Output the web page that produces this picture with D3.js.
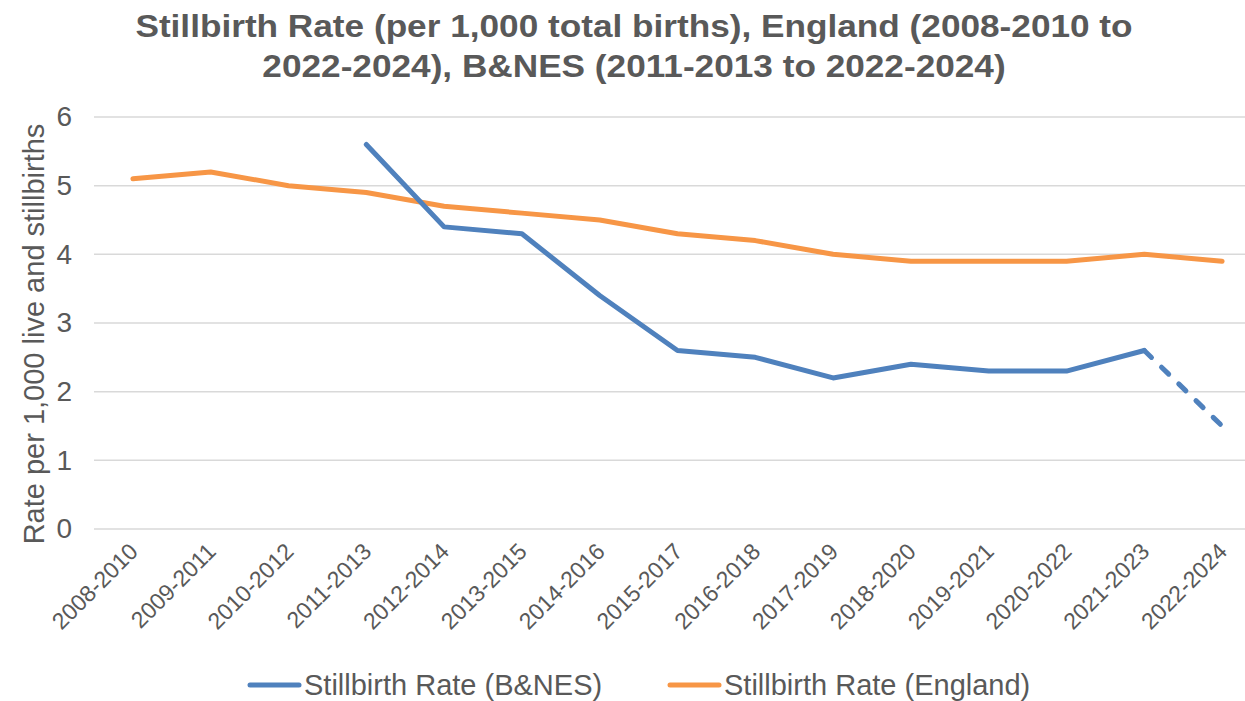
<!DOCTYPE html>
<html>
<head>
<meta charset="utf-8">
<script src="https://cdn.jsdelivr.net/npm/d3@7"></script>
<style>
  body { margin: 0; background: #fff; }
  text { font-family: "Liberation Sans", Arial, sans-serif; fill: #595959; }
</style>
</head>
<body>
<svg id="chart" width="1245" height="701"></svg>
<script>
// periods on the x axis
var periods = ["2008-2010", "2009-2011", "2010-2012", "2011-2013", "2012-2014", "2013-2015",
  "2014-2016", "2015-2017", "2016-2018", "2017-2019", "2018-2020", "2019-2021",
  "2020-2022", "2021-2023", "2022-2024"];
var bnes = [null, null, null, 5.6, 4.4, 4.3, 3.4, 2.6, 2.5, 2.2, 2.4, 2.3, 2.3, 2.6, 1.5];
var england = [5.1, 5.2, 5.0, 4.9, 4.7, 4.6, 4.5, 4.3, 4.2, 4.0, 3.9, 3.9, 3.9, 4.0, 3.9];
var yTicks = [0, 1, 2, 3, 4, 5, 6];

const svg = d3.select("#chart"),
      margin = {top: 117, left: 94},
      width = 1167,
      height = 412,
      x = d3.scalePoint().domain(periods).range([0, width]).padding(0.5),
      y = d3.scaleLinear().domain([0, 6]).range([height, 0]),
      g = svg.append("g").attr("transform", `translate(${margin.left},${margin.top})`);

// title (slightly stretched to match the wider rendering)
svg.append("text").attr("transform", "translate(634,37) scale(1.1,1)").attr("text-anchor", "middle")
  .style("font-size", "32px").style("font-weight", "bold")
  .text("Stillbirth Rate (per 1,000 total births), England (2008-2010 to");
svg.append("text").attr("transform", "translate(634,77) scale(1.1,1)").attr("text-anchor", "middle")
  .style("font-size", "32px").style("font-weight", "bold")
  .text("2022-2024), B&NES (2011-2013 to 2022-2024)");

// gridlines
g.selectAll(".grid").data(yTicks).enter().append("line")
  .attr("x1", 0).attr("x2", width)
  .attr("y1", d => y(d)).attr("y2", d => y(d))
  .style("stroke", "#d9d9d9").style("stroke-width", 1.5);

// y axis
const yAxis = g.append("g").call(d3.axisLeft(y).tickValues(yTicks).tickFormat(d3.format("d"))
  .tickSize(0).tickPadding(22));
yAxis.select(".domain").remove();
yAxis.selectAll("text").style("font-size", "28px").style("fill", "#595959")
  .style("font-family", "Liberation Sans, Arial, sans-serif");

// x axis
const xAxis = g.append("g").attr("transform", `translate(0,${height})`)
  .call(d3.axisBottom(x).tickSize(0));
xAxis.select(".domain").remove();
xAxis.selectAll("text")
  .style("font-size", "23px").style("fill", "#595959")
  .style("font-family", "Liberation Sans, Arial, sans-serif")
  .attr("text-anchor", "end")
  .attr("x", 0).attr("y", 0).attr("dy", null)
  .attr("transform", "translate(6,24) rotate(-45)");

// y label
svg.append("text")
  .attr("transform", "translate(44,334) rotate(-90)")
  .attr("text-anchor", "middle")
  .style("font-size", "29px")
  .text("Rate per 1,000 live and stillbirths");

const line = d3.line()
  .defined(d => d.v !== null)
  .x(d => x(d.p))
  .y(d => y(d.v));

const engData = periods.map((p, i) => ({p: p, v: england[i]}));
const bnesData = periods.map((p, i) => ({p: p, v: bnes[i]}));
const last = periods.length - 1;

g.append("path").datum(engData).attr("d", line)
  .style("fill", "none").style("stroke", "#F79646").style("stroke-width", 5)
  .style("stroke-linejoin", "round").style("stroke-linecap", "round");

// solid part of B&NES, then dashed last segment
g.append("path").datum(bnesData.slice(0, last)).attr("d", line)
  .style("fill", "none").style("stroke", "#4F81BD").style("stroke-width", 5)
  .style("stroke-linejoin", "round").style("stroke-linecap", "round");
g.append("path").datum(bnesData.slice(last - 1)).attr("d", line)
  .style("fill", "none").style("stroke", "#4F81BD").style("stroke-width", 5)
  .style("stroke-dasharray", "10,14").style("stroke-linecap", "round");

// legend
const legend = [
  {name: "Stillbirth Rate (B&NES)", color: "#4F81BD", x: 247},
  {name: "Stillbirth Rate (England)", color: "#F79646", x: 667}
];
legend.forEach(l => {
  svg.append("line").attr("x1", l.x + 3).attr("x2", l.x + 52).attr("y1", 685).attr("y2", 685)
    .style("stroke", l.color).style("stroke-width", 5).style("stroke-linecap", "round");
  svg.append("text").attr("x", l.x + 57).attr("y", 695).style("font-size", "29px").text(l.name);
});
</script>
</body>
</html>
